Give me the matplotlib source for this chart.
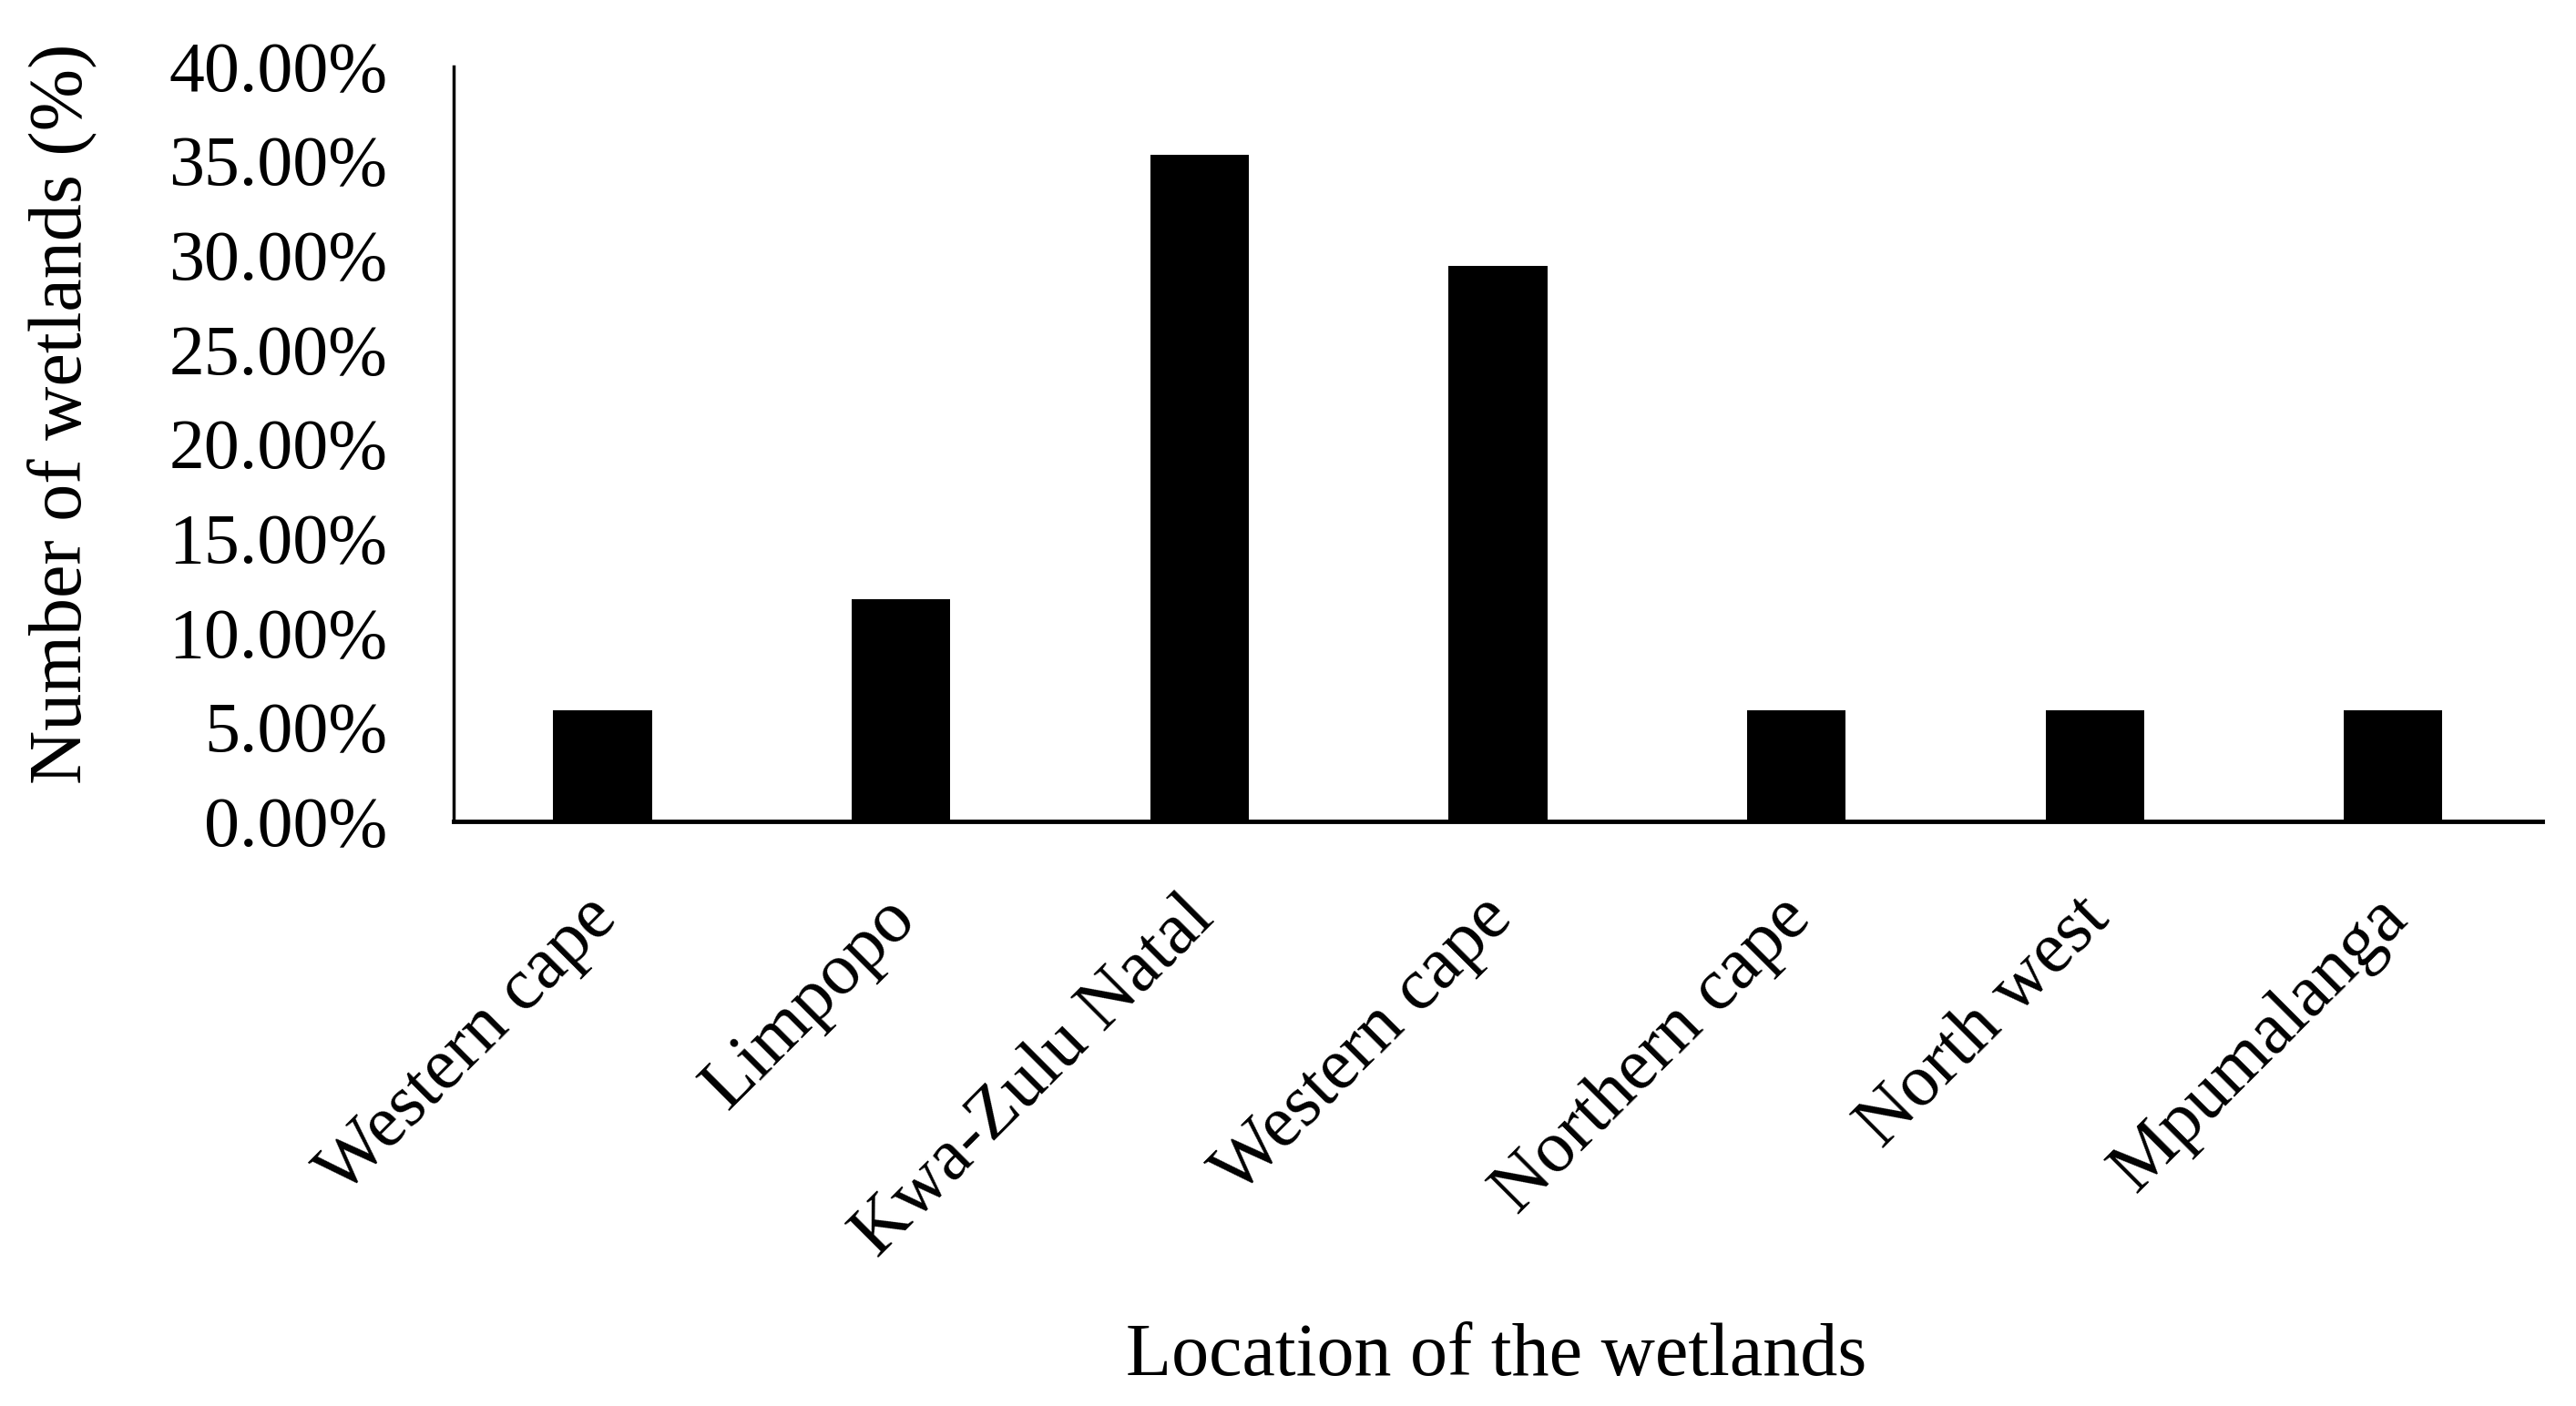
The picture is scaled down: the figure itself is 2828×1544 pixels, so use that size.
import matplotlib
matplotlib.use('Agg')
import matplotlib.pyplot as plt
from matplotlib.ticker import FuncFormatter
from matplotlib.transforms import ScaledTranslation

plt.rcParams['font.family'] = ['Liberation Serif', 'DejaVu Serif']

locations = ['Western cape', 'Limpopo', 'Kwa-Zulu Natal', 'Western cape',
             'Northern cape', 'North west', 'Mpumalanga']
share = [0.0588, 0.1176, 0.3529, 0.2941, 0.0588, 0.0588, 0.0588]
yticks = [0.0, 0.05, 0.10, 0.15, 0.20, 0.25, 0.30, 0.35, 0.40]

fig = plt.figure(figsize=(28.28, 15.44), dpi=100)
ax = fig.add_axes([0.176, 0.416, 0.811, 0.537])

x = list(range(len(locations)))
ax.bar(x, share, width=0.33, color='black')

ax.set_xlim(-0.5, len(locations) - 0.5)
ax.set_ylim(0, 0.40)
ax.set_yticks(yticks)
ax.yaxis.set_major_formatter(FuncFormatter(lambda v, p: f'{v*100:.2f}%'))
ax.set_xticks(x)
ax.set_xticklabels(locations, rotation=45, ha='right', fontsize=58)

ax.tick_params(axis='both', length=0)
ax.tick_params(axis='y', labelsize=56, pad=52)
ax.tick_params(axis='x', pad=50)

# nudge rotated labels right, like the original
shift = ScaledTranslation(0.30, 0, fig.dpi_scale_trans)
for lab in ax.get_xticklabels():
    lab.set_transform(lab.get_transform() + shift)

for s in ['top', 'right']:
    ax.spines[s].set_visible(False)
ax.spines['left'].set_linewidth(2.5)
ax.spines['bottom'].set_linewidth(3.5)

fig.text(0.024, 0.706, 'Number of wetlands (%)', rotation=90,
         ha='center', va='center', fontsize=59)
fig.text(0.581, 0.035, 'Location of the wetlands', ha='center', va='center', fontsize=59)

fig.savefig('out.png', dpi=100, facecolor='white')
